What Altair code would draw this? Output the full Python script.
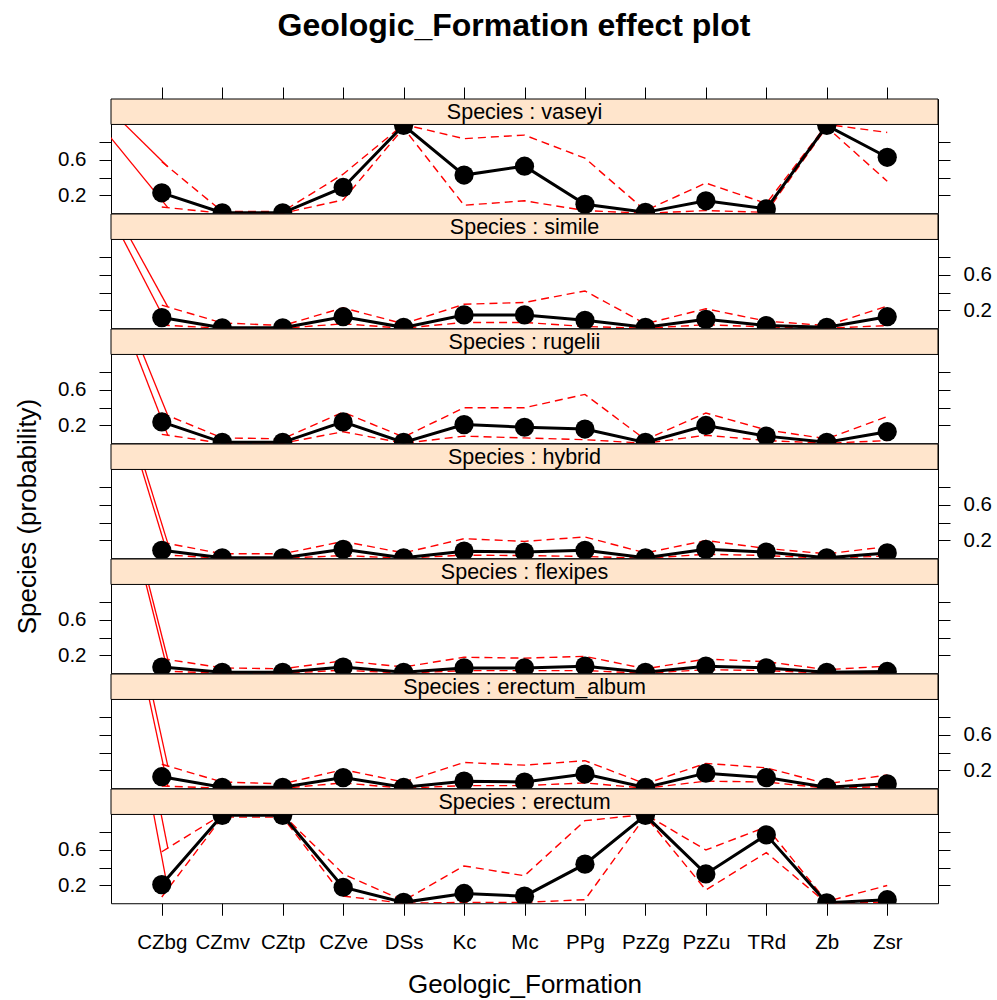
import altair as alt
import pandas as pd

formations = ["CZbg", "CZmv", "CZtp", "CZve", "DSs", "Kc", "Mc", "PPg", "PzZg", "PzZu", "TRd", "Zb", "Zsr"]
species = ["vaseyi", "simile", "rugelii", "hybrid", "flexipes", "erectum_album", "erectum"]

fit_vaseyi = [0.23, 0.005, 0.005, 0.29, 0.99, 0.43, 0.53, 0.10, 0.01, 0.14, 0.05, 0.99, 0.63]
lower_vaseyi = [0.07, 0.0, 0.0, 0.15, 0.96, 0.09, 0.14, 0.03, 0.0, 0.03, 0.01, 0.97, 0.36]
upper_vaseyi = [0.58, 0.02, 0.02, 0.44, 1.0, 0.84, 0.88, 0.62, 0.03, 0.34, 0.11, 1.0, 0.91]

fit_simile = [0.12, 0.005, 0.005, 0.13, 0.01, 0.15, 0.15, 0.09, 0.01, 0.10, 0.03, 0.01, 0.13]
lower_simile = [0.035, 0.0, 0.0, 0.05, 0.0, 0.065, 0.065, 0.02, 0.0, 0.04, 0.015, 0.0, 0.03]
upper_simile = [0.26, 0.06, 0.03, 0.23, 0.05, 0.27, 0.29, 0.42, 0.05, 0.22, 0.08, 0.03, 0.25]

fit_rugelii = [0.24, 0.01, 0.01, 0.24, 0.01, 0.21, 0.18, 0.16, 0.01, 0.20, 0.08, 0.01, 0.13]
lower_rugelii = [0.10, 0.0, 0.0, 0.13, 0.0, 0.08, 0.06, 0.04, 0.0, 0.09, 0.03, 0.0, 0.03]
upper_rugelii = [0.34, 0.06, 0.05, 0.35, 0.07, 0.40, 0.40, 0.55, 0.04, 0.34, 0.15, 0.05, 0.30]

fit_hybrid = [0.09, 0.005, 0.005, 0.10, 0.005, 0.08, 0.07, 0.09, 0.005, 0.10, 0.07, 0.005, 0.06]
lower_hybrid = [0.04, 0.0, 0.0, 0.03, 0.0, 0.035, 0.03, 0.02, 0.0, 0.045, 0.03, 0.0, 0.025]
upper_hybrid = [0.18, 0.05, 0.05, 0.19, 0.06, 0.22, 0.19, 0.24, 0.06, 0.20, 0.11, 0.05, 0.13]

fit_flexipes = [0.07, 0.01, 0.01, 0.07, 0.01, 0.06, 0.06, 0.08, 0.01, 0.08, 0.06, 0.01, 0.02]
lower_flexipes = [0.025, 0.0, 0.0, 0.035, 0.0, 0.03, 0.03, 0.03, 0.0, 0.04, 0.03, 0.0, 0.005]
upper_flexipes = [0.165, 0.06, 0.05, 0.14, 0.07, 0.18, 0.17, 0.19, 0.05, 0.16, 0.13, 0.04, 0.08]

fit_erectum_album = [0.13, 0.01, 0.01, 0.12, 0.01, 0.08, 0.07, 0.16, 0.01, 0.17, 0.12, 0.01, 0.05]
lower_erectum_album = [0.025, 0.0, 0.0, 0.06, 0.0, 0.03, 0.03, 0.06, 0.0, 0.08, 0.07, 0.0, 0.02]
upper_erectum_album = [0.27, 0.07, 0.05, 0.21, 0.07, 0.29, 0.26, 0.31, 0.05, 0.28, 0.23, 0.05, 0.15]

fit_erectum = [0.21, 0.99, 0.99, 0.18, 0.01, 0.11, 0.08, 0.44, 0.99, 0.33, 0.77, 0.005, 0.04]
lower_erectum = [0.07, 0.97, 0.97, 0.08, 0.0, 0.01, 0.01, 0.04, 0.98, 0.15, 0.57, 0.0, 0.01]
upper_erectum = [0.58, 1.0, 1.0, 0.33, 0.03, 0.42, 0.31, 0.93, 1.0, 0.60, 0.86, 0.02, 0.20]

fits = [fit_vaseyi, fit_simile, fit_rugelii, fit_hybrid, fit_flexipes, fit_erectum_album, fit_erectum]
lowers = [lower_vaseyi, lower_simile, lower_rugelii, lower_hybrid, lower_flexipes, lower_erectum_album, lower_erectum]
uppers = [upper_vaseyi, upper_simile, upper_rugelii, upper_hybrid, upper_flexipes, upper_erectum_album, upper_erectum]

# layout (pixels)
FONT = "Liberation Sans"
W = 827
PLOT_H = 88.8
STRIP_H = 25.44
H = PLOT_H + STRIP_H          # panel pitch is H + 1 (view stroke)
PITCH = H + 1
YMAX = 1 + STRIP_H / PLOT_H
PAD = 0.84
XMIN, XMAX = 1 - PAD, len(formations) + PAD
STEP = W / (XMAX - XMIN)
PAGE_LEFT = 111.0   # page x of panel left edge
PAGE_TOP = 97.3     # page y of first strip top

idx = list(range(1, len(formations) + 1))
label_expr = "[" + ",".join("'%s'" % f for f in formations) + "][datum.value - 1]"

n = len(species)
panels = []
for k, sp in enumerate(species):
    df = pd.DataFrame({"idx": idx, "formation": formations,
                       "fit": fits[k], "lower": lowers[k], "upper": uppers[k]})
    # stray solid red strokes running from the device origin to the first CI ends
    x0 = XMIN - PAGE_LEFT / STEP
    y0 = 1 + (PAGE_TOP + k * PITCH + STRIP_H) / PLOT_H
    rows = []
    for which, ci in (("lower", lowers[k]), ("upper", uppers[k])):
        rows.append({"idx": x0, "val": y0, "which": which, "o": 0})
        rows.append({"idx": 1.1, "val": ci[0] + 0.1 * (ci[1] - ci[0]), "which": which, "o": 1})
    art = pd.DataFrame(rows)

    xs = alt.Scale(domain=[XMIN, XMAX], nice=False, zero=False)
    ys = alt.Scale(domain=[0, YMAX], nice=False, zero=False)

    if k == 0:
        xaxis = alt.Axis(orient="top", values=idx, labels=False, tickSize=12, domain=False,
                         grid=False, title=None, tickColor="black")
    elif k == n - 1:
        xaxis = alt.Axis(orient="bottom", values=idx, labelExpr=label_expr, tickSize=12,
                         labelPadding=17.5, domain=False, grid=False, title="Geologic_Formation",
                         titleFontSize=26, titleFont=FONT, titleFontWeight="normal",
                         titlePadding=18, titleColor="black", labelFont=FONT, labelFontSize=20.5,
                         labelColor="black", tickColor="black")
    else:
        xaxis = None
    X = alt.X("idx:Q", scale=xs, axis=xaxis)

    lab_axis = alt.Axis(values=[0.2, 0.4, 0.6, 0.8], labelExpr="(datum.value == 0.2 || datum.value == 0.6) ? datum.label : ''",
                        tickSize=12, labelPadding=13, domain=False, grid=False, title=None,
                        labelFont=FONT, labelFontSize=20.5, labelColor="black", tickColor="black",
                        orient="left" if k % 2 == 0 else "right")
    unl_kwargs = dict(values=[0.2, 0.4, 0.6, 0.8], labels=False, tickSize=12, domain=False,
                      grid=False, tickColor="black", orient="right" if k % 2 == 0 else "left")
    if k == 3:
        unl_kwargs.update(title="Species (probability)", titleFont=FONT, titleFontSize=26,
                          titleFontWeight="normal", titleColor="black", titlePadding=58,
                          titleY=72.0)
    else:
        unl_kwargs.update(title=None)
    unl_axis = alt.Axis(**unl_kwargs)

    base = alt.Chart(df)
    lo = base.mark_line(color="red", strokeWidth=1.4, strokeDash=[8, 5], clip=True).encode(
        x=X, y=alt.Y("lower:Q", scale=ys, axis=None))
    up = base.mark_line(color="red", strokeWidth=1.4, strokeDash=[8, 5], clip=True).encode(
        x=X, y=alt.Y("upper:Q", scale=ys, axis=None))
    stray = alt.Chart(art).mark_line(color="red", strokeWidth=1.3, clip=True).encode(
        x=X, y=alt.Y("val:Q", scale=ys, axis=None), detail="which:N", order="o:Q")
    line = base.mark_line(color="black", strokeWidth=3, clip=True).encode(
        x=X, y=alt.Y("fit:Q", scale=ys, axis=unl_axis))
    pts = base.mark_circle(color="black", size=370, opacity=1, clip=True).encode(
        x=X, y=alt.Y("fit:Q", scale=ys, axis=lab_axis))
    strip = alt.Chart(pd.DataFrame({"s": [sp]})).mark_rect(
        fill="#FFE5CC", stroke="black", strokeWidth=1).encode(
        x=alt.value(0), x2=alt.value(W), y=alt.value(0), y2=alt.value(STRIP_H))
    stext = alt.Chart(pd.DataFrame({"s": ["Species : " + sp]})).mark_text(
        font=FONT, fontSize=21.5, color="black", baseline="middle", align="center", dy=1).encode(
        x=alt.value(W / 2), y=alt.value(STRIP_H / 2), text="s:N")

    p = alt.layer(lo, up, stray, line, pts, strip, stext).resolve_axis(y="independent").properties(
        width=W, height=H)
    panels.append(p)

chart = alt.VConcatChart(vconcat=panels, spacing=0, bounds="flush").properties(
    title=alt.TitleParams("Geologic_Formation effect plot", font=FONT, fontSize=32,
                          fontWeight="bold", color="black", anchor="middle", offset=43, dx=11),
    padding={"left": 14, "top": 10, "right": 5, "bottom": 2},
    background="white",
).configure_view(stroke="black", strokeWidth=1).configure_axis(labelFlush=False, labelOverlap=False)

chart.save("out.html", embed_options={"renderer": "svg", "actions": False})
